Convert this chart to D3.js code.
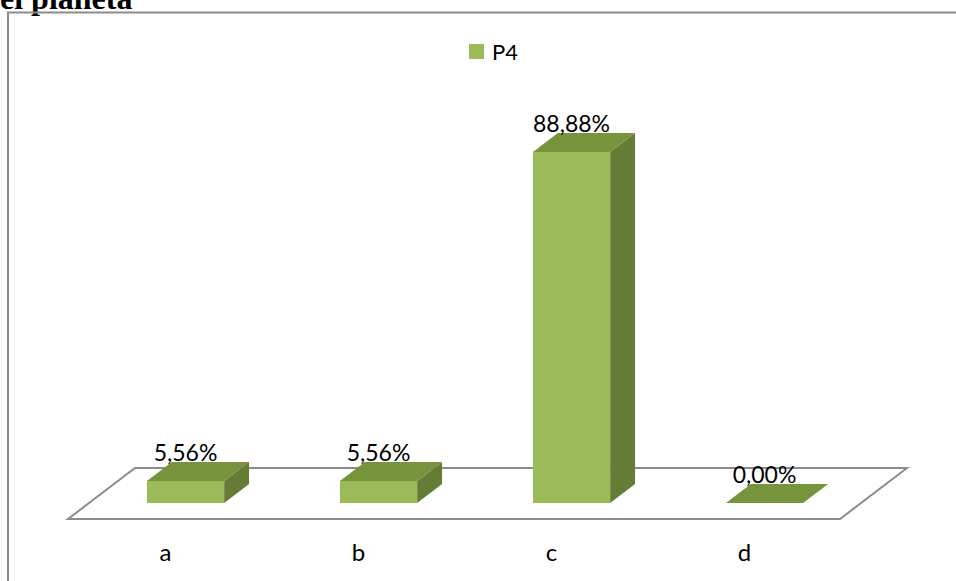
<!DOCTYPE html>
<html>
<head>
<meta charset="utf-8">
<script src="https://cdn.jsdelivr.net/npm/d3@7"></script>
<style>
  html, body { margin: 0; padding: 0; background: #fff; }
  svg { display: block; }
</style>
</head>
<body>
<svg id="chart" width="956" height="581"></svg>
<script>
// Answer shares for question P4
const categories = ["a", "b", "c", "d"];
const values = [5.56, 5.56, 88.88, 0.00];
const valueLabels = ["5,56%", "5,56%", "88,88%", "0,00%"];
const seriesName = "P4";
const titleText = "el planeta";

const svg = d3.select("#chart");
const W = 956, H = 581;

const colFront = "#9bbb59", colTop = "#77933c", colSide = "#667c36";
const lineCol = "#8c8c8c";
const font = "Lato, 'Open Sans', sans-serif";

// Title (continues above the page edge)
svg.append("text")
  .attr("x", 0).attr("y", 9)
  .attr("font-family", "'Liberation Serif', 'Times New Roman', serif")
  .attr("font-weight", "bold")
  .attr("font-size", 32)
  .attr("fill", "#000")
  .text(titleText);

// Chart area frame
svg.append("rect")
  .attr("x", 8).attr("y", 12.5)
  .attr("width", W + 20).attr("height", H + 20)
  .attr("fill", "none")
  .attr("stroke", lineCol)
  .attr("stroke-width", 2);

// Oblique projection of the floor
const floorFrontY = 519;
const depthDX = 67, depthDY = -51;           // full floor depth vector
const barDepth0 = 0.314, barDepth1 = 0.686;  // bar occupies middle of depth

const x = d3.scaleBand().domain(categories).range([68, 840]).paddingInner(0).paddingOuter(0);
const barFrac = 0.4;
const barW = x.bandwidth() * barFrac;

const baseY = floorFrontY + depthDY * barDepth0;     // front face bottom
const y = d3.scaleLinear().domain([0, 100]).range([baseY, baseY - 395]);

const bdx = depthDX * (barDepth1 - barDepth0);
const bdy = depthDY * (barDepth1 - barDepth0);

// Floor outline
const fl = [
  [x.range()[0], floorFrontY],
  [x.range()[1], floorFrontY],
  [x.range()[1] + depthDX, floorFrontY + depthDY],
  [x.range()[0] + depthDX, floorFrontY + depthDY]
];
svg.append("path")
  .attr("d", d3.line()(fl) + "Z")
  .attr("fill", "#fff")
  .attr("stroke", lineCol)
  .attr("stroke-width", 2)
  .attr("stroke-linejoin", "miter");

// Bars
const data = categories.map((c, i) => ({ c, v: values[i], label: valueLabels[i] }));
const g = svg.append("g");
data.forEach(d => {
  const x0 = x(d.c) + x.bandwidth() * (1 - barFrac) / 2 + depthDX * barDepth0;
  const x1 = x0 + barW;
  const yb = y(0), yt = y(d.v);
  const bar = g.append("g");
  if (yb - yt > 0.5) {
    // side face
    bar.append("path")
      .attr("d", d3.line()([[x1, yb], [x1 + bdx, yb + bdy], [x1 + bdx, yt + bdy], [x1, yt]]) + "Z")
      .attr("fill", colSide);
    // front face
    bar.append("rect")
      .attr("x", x0).attr("y", yt)
      .attr("width", barW).attr("height", yb - yt)
      .attr("fill", colFront);
  }
  // top face
  bar.append("path")
    .attr("d", d3.line()([[x0, yt], [x1, yt], [x1 + bdx, yt + bdy], [x0 + bdx, yt + bdy]]) + "Z")
    .attr("fill", colTop);
  // value label
  g.append("text")
    .attr("x", (x0 + x1) / 2)
    .attr("y", yt + bdy - 1)
    .attr("text-anchor", "middle")
    .attr("font-family", font)
    .attr("font-size", 23)
    .attr("fill", "#000")
    .text(d.label);
});

// Category axis labels (front edge of the floor)
svg.append("g").selectAll("text")
  .data(categories)
  .join("text")
  .attr("x", d => x(d) + x.bandwidth() / 2 + 1)
  .attr("y", 561)
  .attr("text-anchor", "middle")
  .attr("font-family", font)
  .attr("font-size", 24)
  .attr("fill", "#000")
  .text(d => d);

// Legend
const lg = svg.append("g").attr("transform", "translate(469,44)");
lg.append("rect").attr("width", 15).attr("height", 15).attr("fill", colFront);
lg.append("text")
  .attr("x", 23).attr("y", 15.5)
  .attr("font-family", font)
  .attr("font-size", 22)
  .attr("fill", "#000")
  .text(seriesName);
</script>
</body>
</html>
